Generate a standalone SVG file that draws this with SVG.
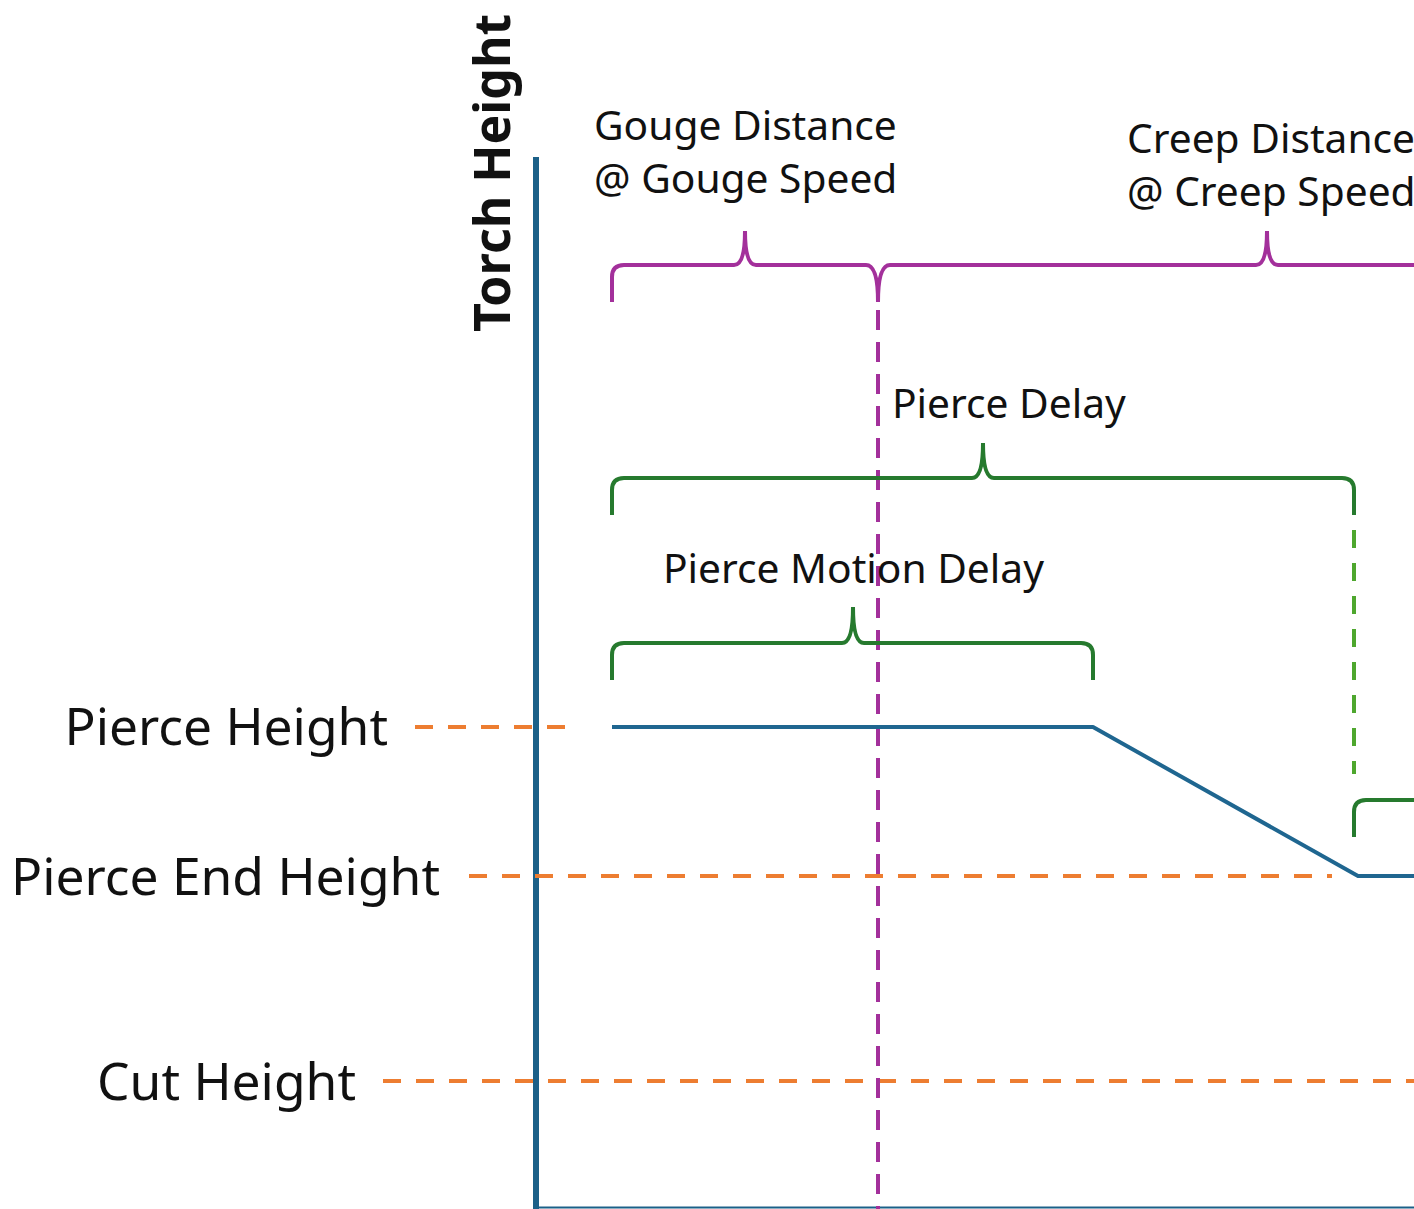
<svg xmlns="http://www.w3.org/2000/svg" width="1414" height="1209" viewBox="0 0 1414 1209">
<style>
.lbl{font-family:"Noto Sans","Open Sans",sans-serif;fill:#111;}
.big{font-size:51.5px;}
.small{font-size:40.7px;}
.orange{stroke:#ED7D31;stroke-width:4;stroke-dasharray:18 15;fill:none;}
.axis{stroke:#1B6088;stroke-width:6;fill:none;}
.profile{stroke:#1F6690;stroke-width:4;fill:none;stroke-linejoin:round;}
.mag{stroke:#A3309B;stroke-width:4;fill:none;}
.magdash{stroke:#A3309B;stroke-width:4;stroke-dasharray:20 12;fill:none;}
.green{stroke:#267A2E;stroke-width:4;fill:none;}
.gdash{stroke:#4EA72E;stroke-width:4;stroke-dasharray:18 15;fill:none;}
</style>
<rect width="1414" height="1209" fill="#fff"/>
<g id="axes">
<line class="axis" x1="536" y1="157" x2="536" y2="1209"/>
<line x1="536" y1="1207.5" x2="1414" y2="1207.5" stroke="#1B6088" stroke-width="2"/>
<text class="lbl" transform="translate(510,332) rotate(-90)" font-family="Liberation Sans,Arial,sans-serif" font-weight="bold" font-size="50">Torch Height</text>
</g>
<g id="levels">
<g id="pierce-height">
<text class="lbl big" x="388" y="745" text-anchor="end">Pierce Height</text>
<line class="orange" x1="415" y1="727" x2="572" y2="727"/>
</g>
<g id="pierce-end-height">
<text class="lbl big" x="440" y="895" text-anchor="end">Pierce End Height</text>
<line class="orange" x1="469" y1="876" x2="1332" y2="876"/>
</g>
<g id="cut-height">
<text class="lbl big" x="356" y="1100" text-anchor="end">Cut Height</text>
<line class="orange" x1="383" y1="1081" x2="1414" y2="1081"/>
</g>
</g>
<g id="connectors">
<line class="magdash" x1="878" y1="310" x2="878" y2="1209"/>
<line class="gdash" x1="1354" y1="530" x2="1354" y2="774"/>
<polyline class="profile" points="612,727 1093,727 1358,876 1414,876"/>
</g>
<g id="gouge-distance">
<text class="lbl small" x="594" y="140">Gouge Distance</text>
<text class="lbl small" x="594" y="193">@ Gouge Speed</text>
<path class="mag" d="M612,302 L612,277 Q612,265 624,265 L734,265 Q745,265 745,231 Q745,265 756,265 L866,265 Q878,265 878,302"/>
</g>
<g id="creep-distance">
<text class="lbl small" x="1127" y="153">Creep Distance</text>
<text class="lbl small" x="1127" y="206">@ Creep Speed</text>
<path class="mag" d="M878,302 Q878,265 890,265 L1256,265 Q1267,265 1267,231 Q1267,265 1278,265 L1414,265"/>
</g>
<g id="pierce-delay">
<text class="lbl small" x="892" y="418">Pierce Delay</text>
<path class="green" d="M612,515 L612,490 Q612,478 624,478 L972,478 Q983,478 983,443 Q983,478 994,478 L1342,478 Q1354,478 1354,490 L1354,515"/>
</g>
<g id="pierce-motion-delay">
<text class="lbl small" x="663" y="583">Pierce Motion Delay</text>
<path class="green" d="M612,680 L612,655 Q612,643 624,643 L842,643 Q853,643 853,607 Q853,643 864,643 L1081,643 Q1093,643 1093,655 L1093,680"/>
</g>
<g id="next-brace">
<path class="green" d="M1354,837 L1354,812 Q1354,800 1366,800 L1414,800"/>
</g>
</svg>
